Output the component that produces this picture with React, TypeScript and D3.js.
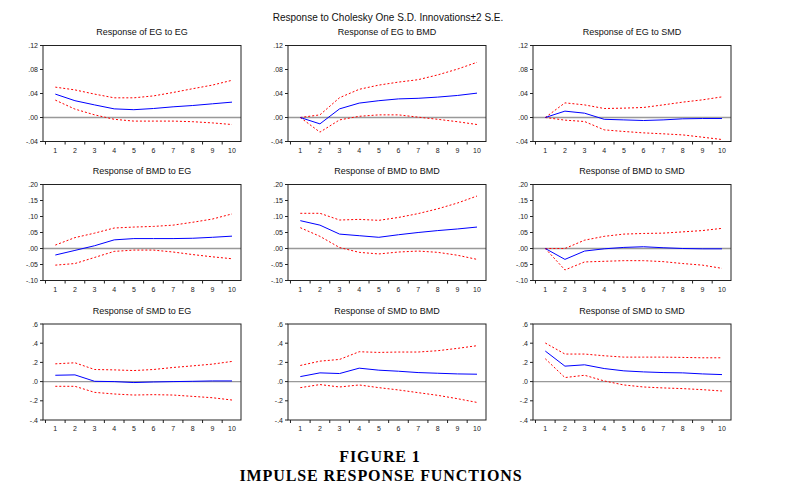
import React from "react";
import * as d3 from "d3";

const periods = [1, 2, 3, 4, 5, 6, 7, 8, 9, 10];
const panelTitles = [
  "Response of EG to EG", "Response of EG to BMD", "Response of EG to SMD",
  "Response of BMD to EG", "Response of BMD to BMD", "Response of BMD to SMD",
  "Response of SMD to EG", "Response of SMD to BMD", "Response of SMD to SMD",
];
const rowDomains: [number, number][] = [[-0.04, 0.12], [-0.1, 0.2], [-0.4, 0.6]];
const rowTicks = [
  [-0.04, 0, 0.04, 0.08, 0.12],
  [-0.1, -0.05, 0, 0.05, 0.1, 0.15, 0.2],
  [-0.4, -0.2, 0, 0.2, 0.4, 0.6],
];
const rowTickLabels = [
  ["-.04", ".00", ".04", ".08", ".12"],
  ["-.10", "-.05", ".00", ".05", ".10", ".15", ".20"],
  ["-.4", "-.2", ".0", ".2", ".4", ".6"],
];

// response, upper band, lower band for each panel
const resp = [
  [0.039, 0.028, 0.021, 0.0144, 0.013, 0.015, 0.0178, 0.02, 0.0228, 0.0256],
  [0, -0.0106, 0.0144, 0.024, 0.028, 0.031, 0.032, 0.034, 0.0367, 0.0406],
  [0, 0.0106, 0.0072, -0.003, -0.004, -0.005, -0.004, -0.0022, -0.0017, -0.0017],
  [-0.0204, -0.006, 0.0086, 0.027, 0.031, 0.031, 0.031, 0.032, 0.035, 0.0386],
  [0.087, 0.073, 0.045, 0.04, 0.035, 0.043, 0.05, 0.056, 0.061, 0.067],
  [0, -0.034, -0.008, -0.001, 0.0034, 0.0055, 0.0024, 0, -0.001, -0.001],
  [0.066, 0.07, 0.003, 0, -0.01, -0.004, 0, 0.003, 0.007, 0.007],
  [0.052, 0.091, 0.084, 0.14, 0.119, 0.108, 0.094, 0.087, 0.08, 0.077],
  [0.318, 0.161, 0.175, 0.136, 0.112, 0.101, 0.094, 0.091, 0.08, 0.073],
];
const upper = [
  [0.0506, 0.046, 0.039, 0.0328, 0.0328, 0.036, 0.0417, 0.048, 0.054, 0.062],
  [0, 0.0044, 0.033, 0.047, 0.054, 0.059, 0.063, 0.071, 0.0806, 0.092],
  [0, 0.0244, 0.021, 0.015, 0.0156, 0.0167, 0.021, 0.0256, 0.0294, 0.0344],
  [0.0107, 0.034, 0.048, 0.064, 0.067, 0.069, 0.073, 0.082, 0.092, 0.108],
  [0.11, 0.11, 0.089, 0.091, 0.088, 0.097, 0.109, 0.124, 0.142, 0.164],
  [0, 0, 0.026, 0.038, 0.045, 0.047, 0.048, 0.052, 0.056, 0.063],
  [0.185, 0.196, 0.126, 0.122, 0.115, 0.126, 0.147, 0.164, 0.182, 0.21],
  [0.168, 0.213, 0.231, 0.311, 0.304, 0.308, 0.308, 0.322, 0.346, 0.374],
  [0.402, 0.287, 0.287, 0.269, 0.255, 0.255, 0.255, 0.252, 0.248, 0.248],
];
const lower = [
  [0.029, 0.014, 0.0044, -0.003, -0.006, -0.006, -0.006, -0.007, -0.009, -0.0117],
  [0, -0.0244, -0.004, 0.002, 0.0044, 0.0044, 0.0006, -0.003, -0.007, -0.0117],
  [0, -0.0044, -0.0067, -0.0206, -0.0233, -0.0256, -0.0272, -0.029, -0.0328, -0.0367],
  [-0.052, -0.047, -0.028, -0.009, -0.005, -0.005, -0.011, -0.019, -0.026, -0.032],
  [0.065, 0.038, 0.003, -0.012, -0.017, -0.011, -0.008, -0.012, -0.021, -0.034],
  [0, -0.067, -0.042, -0.04, -0.038, -0.038, -0.041, -0.047, -0.052, -0.062],
  [-0.049, -0.049, -0.112, -0.129, -0.14, -0.136, -0.14, -0.154, -0.168, -0.192],
  [-0.063, -0.031, -0.056, -0.035, -0.063, -0.087, -0.115, -0.143, -0.178, -0.217],
  [0.238, 0.042, 0.066, 0.007, -0.035, -0.056, -0.066, -0.073, -0.084, -0.098],
];

const mainTitle = "Response to Cholesky One S.D. Innovations\u00b12 S.E.";
const figLabel = "FIGURE 1";
const figCaption = "IMPULSE RESPONSE FUNCTIONS";

const W = 803;
const H = 494;
const colLefts = [43, 288, 533];
const rowTops = [45.5, 184.5, 324];
const PW = 198;
const PH = 96;
const sans = "'Liberation Sans', Arial, sans-serif";
const serif = "'Liberation Serif', 'Times New Roman', serif";

function Panel({ idx }: { idx: number }) {
  const r = Math.floor(idx / 3);
  const c = idx % 3;
  const left = colLefts[c];
  const top = rowTops[r];
  const x = d3.scaleLinear().domain([1, 10]).range([left + 12.3, left + 189]);
  const y = d3.scaleLinear().domain(rowDomains[r]).range([top + PH, top]);
  const line = d3
    .line<number>()
    .x((_, i) => x(periods[i]))
    .y((v) => y(v));
  const step = x(2) - x(1);
  const xTicks = d3
    .range(0, 11)
    .map((i) => x(1) - step / 2 + i * step)
    .filter((v) => v > left + 1 && v < left + PW - 1);
  return (
    <g>
      <text x={left + PW / 2} y={top - 10.5} textAnchor="middle" fontFamily={sans} fontSize={9} fill="#111">
        {panelTitles[idx]}
      </text>
      <line x1={left} x2={left + PW} y1={y(0)} y2={y(0)} stroke="#999" strokeWidth={1.3} />
      <path d={line(upper[idx]) || ""} fill="none" stroke="#ff0000" strokeWidth={1} strokeDasharray="2,2" />
      <path d={line(lower[idx]) || ""} fill="none" stroke="#ff0000" strokeWidth={1} strokeDasharray="2,2" />
      <path d={line(resp[idx]) || ""} fill="none" stroke="#0000ff" strokeWidth={1} />
      <rect x={left} y={top} width={PW} height={PH} fill="none" stroke="#222" strokeWidth={1} />
      {rowTicks[r].map((t, i) => (
        <g key={i}>
          <line x1={left - 3} x2={left} y1={y(t)} y2={y(t)} stroke="#222" />
          <text x={left - 5} y={y(t) + 2.5} textAnchor="end" fontFamily={sans} fontSize={7} fill="#222">
            {rowTickLabels[r][i]}
          </text>
        </g>
      ))}
      {xTicks.map((t, i) => (
        <line key={i} x1={t} x2={t} y1={top + PH} y2={top + PH + 3} stroke="#222" />
      ))}
      {periods.map((p) => (
        <text key={p} x={x(p)} y={top + PH + 11} textAnchor="middle" fontFamily={sans} fontSize={7} fill="#222">
          {p}
        </text>
      ))}
    </g>
  );
}

export default function App() {
  return (
    <svg width={W} height={H} style={{ position: "absolute", left: 0, top: 0, background: "#fff" }}>
      <rect width={W} height={H} fill="#fff" />
      <text x={388} y={21} textAnchor="middle" fontFamily={sans} fontSize={10} fill="#111">
        {mainTitle}
      </text>
      {panelTitles.map((_, i) => (
        <Panel key={i} idx={i} />
      ))}
      <text x={380} y={462} textAnchor="middle" fontFamily={serif} fontWeight="bold" fontSize={16} letterSpacing={0.9} fill="#000">
        {figLabel}
      </text>
      <text x={381} y={481} textAnchor="middle" fontFamily={serif} fontWeight="bold" fontSize={16} letterSpacing={0.9} fill="#000">
        {figCaption}
      </text>
    </svg>
  );
}
